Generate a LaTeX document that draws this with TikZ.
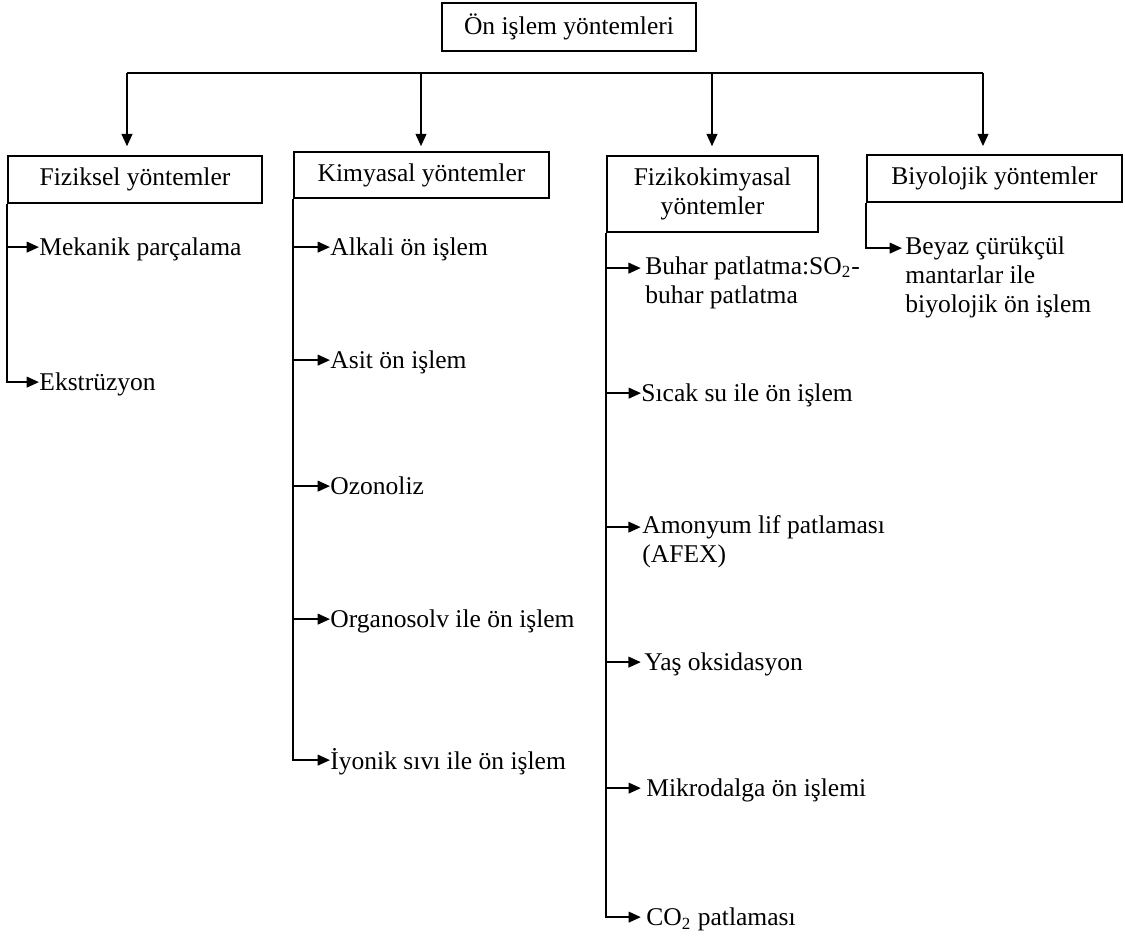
\documentclass[tikz,border=0pt]{standalone}
\usepackage{fontspec}
\setmainfont{Liberation Serif}
\usetikzlibrary{arrows.meta}
\begin{document}
\begin{tikzpicture}[x=0.47pt, y=-0.47pt,
  every node/.style={font=\fontsize{12}{13.8}\selectfont},
  box/.style={draw, line width=0.7pt, inner sep=0pt, align=center},
  item/.style={anchor=north west, inner sep=0pt, align=left, execute at begin node=\strut},
  conn/.style={line width=0.95pt},
  arr/.style={conn, -{Triangle[length=5.8pt,width=5pt]}}]
\useasboundingbox (0,0) rectangle (1125,938);

% boxes
\node[box, minimum width=254*0.47pt, minimum height=48*0.47pt] (top) at (569,27) {Ön işlem yöntemleri};
\node[box, minimum width=254*0.47pt, minimum height=47*0.47pt] (fz) at (135,179.5) {Fiziksel yöntemler};
\node[box, minimum width=255*0.47pt, minimum height=46*0.47pt] (km) at (421.5,175) {Kimyasal yöntemler};
\node[box, minimum width=211*0.47pt, minimum height=76*0.47pt] (fk) at (712.5,194) {Fizikokimyasal\\yöntemler};
\node[box, minimum width=255*0.47pt, minimum height=47*0.47pt] (by) at (994.5,178.5) {Biyolojik yöntemler};

% branch line
\coordinate (h1) at (127,73);
\coordinate (h2) at (421,73);
\coordinate (h3) at (712,73);
\coordinate (h4) at (983,73);
\draw[conn] (h1) -- (h4);
\draw[arr, shorten >=4.2pt] (h1) -- (h1 |- fz.north);
\draw[arr, shorten >=2.35pt] (h2) -- (h2 |- km.north);
\draw[arr, shorten >=4.2pt] (h3) -- (h3 |- fk.north);
\draw[arr, shorten >=3.8pt] (h4) -- (h4 |- by.north);

% Fiziksel
\node[item] (f1) at (39,235) {Mekanik parçalama};
\node[item] (f2) at (39,370) {Ekstrüzyon};
\foreach \n in {f1,f2}
  \draw[arr] (fz.south west) |- ([yshift=-5.7pt]\n.north west);

% Kimyasal
\node[item] (k1) at (330,235) {Alkali ön işlem};
\node[item] (k2) at (330,348) {Asit ön işlem};
\node[item] (k3) at (330,474) {Ozonoliz};
\node[item] (k4) at (330,607) {Organosolv ile ön işlem};
\node[item] (k5) at (330,748) {İyonik sıvı ile ön işlem};
\foreach \n in {k1,k2,k3,k4,k5}
  \draw[arr] (km.south west) |- ([yshift=-5.7pt]\n.north west);

% Fizikokimyasal
\node[item] (p1) at (645,256) {Buhar patlatma:SO\textsubscript{2}-\\buhar patlatma};
\node[item] (p2) at (641,381) {Sıcak su ile ön işlem};
\node[item] (p3) at (642,515) {Amonyum lif patlaması\\(AFEX)};
\node[item] (p4) at (644,650) {Yaş oksidasyon};
\node[item] (p5) at (646,776) {Mikrodalga ön işlemi};
\node[item] (p6) at (646,905) {CO\textsubscript{2} patlaması};
\draw[arr, shorten >=2pt] (fk.south west) |- ([yshift=-5.7pt]p1.north west);
\draw[arr] (fk.south west) |- ([yshift=-5.7pt]p2.north west);
\draw[arr, shorten >=0.6pt] (fk.south west) |- ([yshift=-5.7pt]p3.north west);
\draw[arr, shorten >=1.5pt] (fk.south west) |- ([yshift=-5.7pt]p4.north west);
\draw[arr, shorten >=2.4pt] (fk.south west) |- ([yshift=-5.7pt]p5.north west);
\draw[arr, shorten >=2.4pt] (fk.south west) |- ([yshift=-5.7pt]p6.north west);

% Biyolojik
\node[item] (b1) at (905,236) {Beyaz çürükçül\\mantarlar ile\\biyolojik ön işlem};
\draw[arr, shorten >=1.4pt] (by.south west) |- ([yshift=-5.7pt]b1.north west);
\end{tikzpicture}
\end{document}
